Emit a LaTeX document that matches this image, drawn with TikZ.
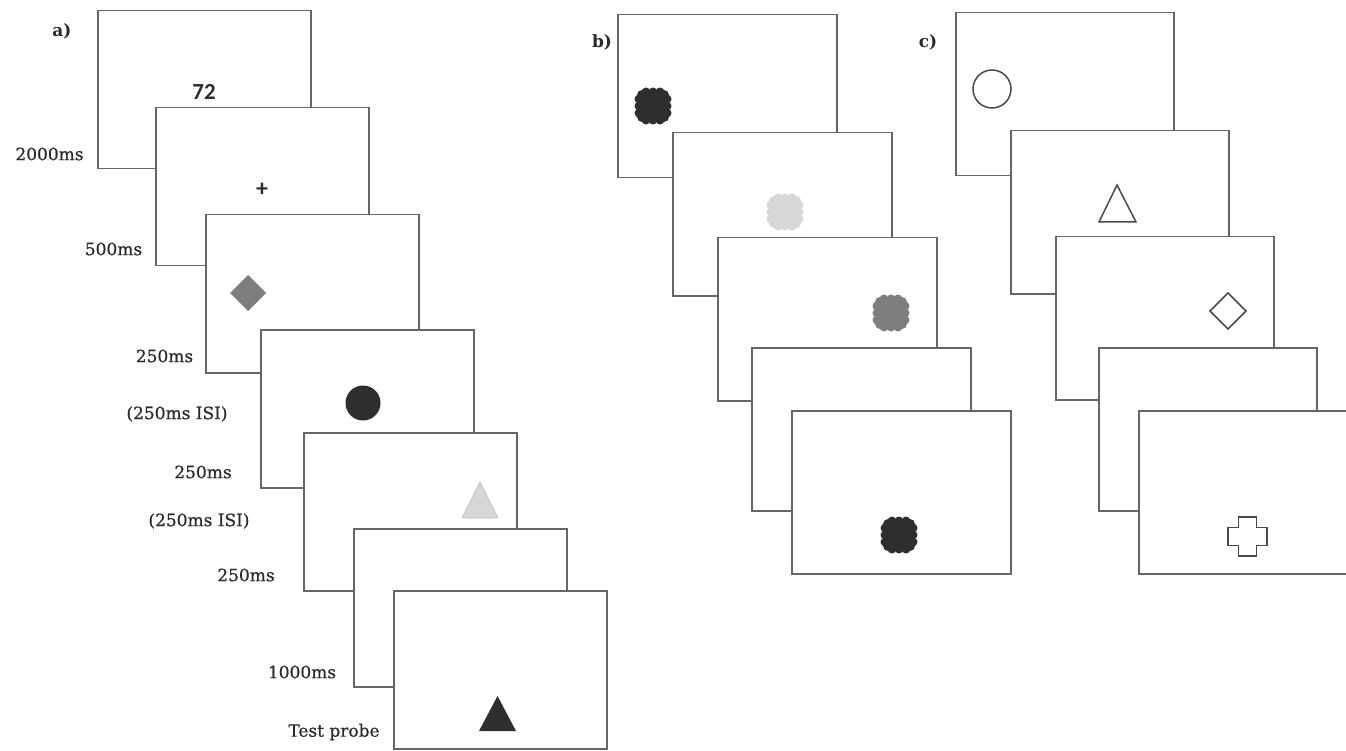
\documentclass[tikz,border=0pt]{standalone}
\usepackage{fontspec}
\setmainfont{DejaVu Serif}
\newfontfamily\lblfont[FakeBold=0.6]{DejaVu Serif}
\newfontfamily\calib{Carlito}
\definecolor{framegray}{HTML}{666666}
\definecolor{labelgray}{HTML}{2A2A2A}
\definecolor{shapegray}{HTML}{4A4A4A}
\definecolor{darkfill}{HTML}{2E2E2E}
\definecolor{midfill}{HTML}{7E7E7E}
\definecolor{lightfill}{HTML}{D8D6D8}
\definecolor{lightedge}{HTML}{C4C2C4}
\newcommand\myblob[3]{%
  \begin{scope}[shift={(#1,#2)}]
    \fill[#3, rounded corners=8pt] (-15,-15) rectangle (15,15);
    \foreach \u in {-7,0,7}{
      \fill[#3] (\u,-14) circle[radius=4.5pt];
      \fill[#3] (\u,14) circle[radius=4.5pt];
      \fill[#3] (-14,\u) circle[radius=4.5pt];
      \fill[#3] (14,\u) circle[radius=4.5pt];
    }
    \foreach \u/\v in {-11/-11,11/-11,-11/11,11/11}{
      \fill[#3] (\u,\v) circle[radius=5pt];
    }
  \end{scope}}
\begin{document}
\begin{tikzpicture}[x=1pt,y=-1pt,
  screen/.style={draw=framegray, line width=1.5pt, fill=white, minimum width=213pt, minimum height=158pt, inner sep=0pt, anchor=north west},
  screenb/.style={screen, minimum width=219pt, minimum height=163pt},
  screenc/.style={screen, minimum width=218pt, minimum height=163pt},
  lbl/.style={font=\lblfont\fontsize{17}{20}\selectfont, text=labelgray, inner sep=0pt},
  panel/.style={font=\bfseries\fontsize{17}{20}\selectfont, text=labelgray, inner sep=0pt},
  outl/.style={draw=shapegray, line width=1.5pt, fill=white}]
\fill[white] (0,0) rectangle (1346,751);
\useasboundingbox (0,0) rectangle (1346,751);

% ---------- panel a ----------
\node[panel] (la) at (62,31) {a)};
\node[screen] (a1) at (97,10) {};
\node[font=\calib\bfseries\fontsize{23}{26}\selectfont, text=darkfill, inner sep=0pt] (n72) at (204,92) {72};
\node[screen] (a2) at (155,107) {};
\node[font=\calib\bfseries\fontsize{24}{26}\selectfont, text=darkfill, inner sep=0pt] (plus) at (262,190) {+};
\node[screen] (a3) at (205,214) {};
\fill[midfill] (248,275) -- (266,293) -- (248,311) -- (230,293) -- cycle;
\node[screen] (a4) at (260,329) {};
\fill[darkfill] (363,403) circle[radius=17.5pt];
\node[screen] (a5) at (303,432) {};
\filldraw[fill=lightfill, draw=lightedge, line width=0.8pt] (462,518) -- (498,518) -- (480,482) -- cycle;
\node[screen] (a6) at (353,528) {};
\node[screen] (a7) at (393,590) {};
\fill[darkfill] (479,731) -- (516,731) -- (497.5,696) -- cycle;

\node[lbl] (t1) at (49.5,154) {2000ms};
\node[lbl] (t2) at (113.5,249) {500ms};
\node[lbl] (t3) at (164.5,356) {250ms};
\node[lbl] (t4) at (177,414) {(250ms ISI)};
\node[lbl] (t5) at (203,472) {250ms};
\node[lbl] (t6) at (199,521) {(250ms ISI)};
\node[lbl] (t7) at (246,575) {250ms};
\node[lbl] (t8) at (302,672) {1000ms};
\node[lbl] (t9) at (334,732) {Test probe};

% ---------- panel b ----------
\node[panel] (lb) at (602,42) {b)};
\node[screenb] (b1) at (617,14) {};
\myblob{653}{106}{darkfill}
\node[screenb] (b2) at (672,132) {};
\myblob{785}{212}{lightfill}
\node[screenb] (b3) at (717,237) {};
\myblob{891}{313}{midfill}
\node[screenb] (b4) at (751,347) {};
\node[screenb] (b5) at (791,410) {};
\myblob{899}{535}{darkfill}

% ---------- panel c ----------
\node[panel] (lc) at (928,42) {c)};
\node[screenc] (c1) at (955,12) {};
\draw[outl] (992,89) circle[radius=19pt];
\node[screenc] (c2) at (1010,130) {};
\draw[outl] (1099,222) -- (1136,222) -- (1117,185) -- cycle;
\node[screenc] (c3) at (1055,236) {};
\draw[outl] (1228,293) -- (1246,311) -- (1228,329) -- (1210,311) -- cycle;
\node[screenc] (c4) at (1098,347) {};
\node[screenc] (c5) at (1138,410) {};
\begin{scope}[shift={(1247.5,536.5)}]
\draw[outl] (-9,-19.5) -- (9,-19.5) -- (9,-9) -- (19.5,-9) -- (19.5,9) -- (9,9) -- (9,19.5) -- (-9,19.5) -- (-9,9) -- (-19.5,9) -- (-19.5,-9) -- (-9,-9) -- cycle;
\end{scope}
\end{tikzpicture}
\end{document}
